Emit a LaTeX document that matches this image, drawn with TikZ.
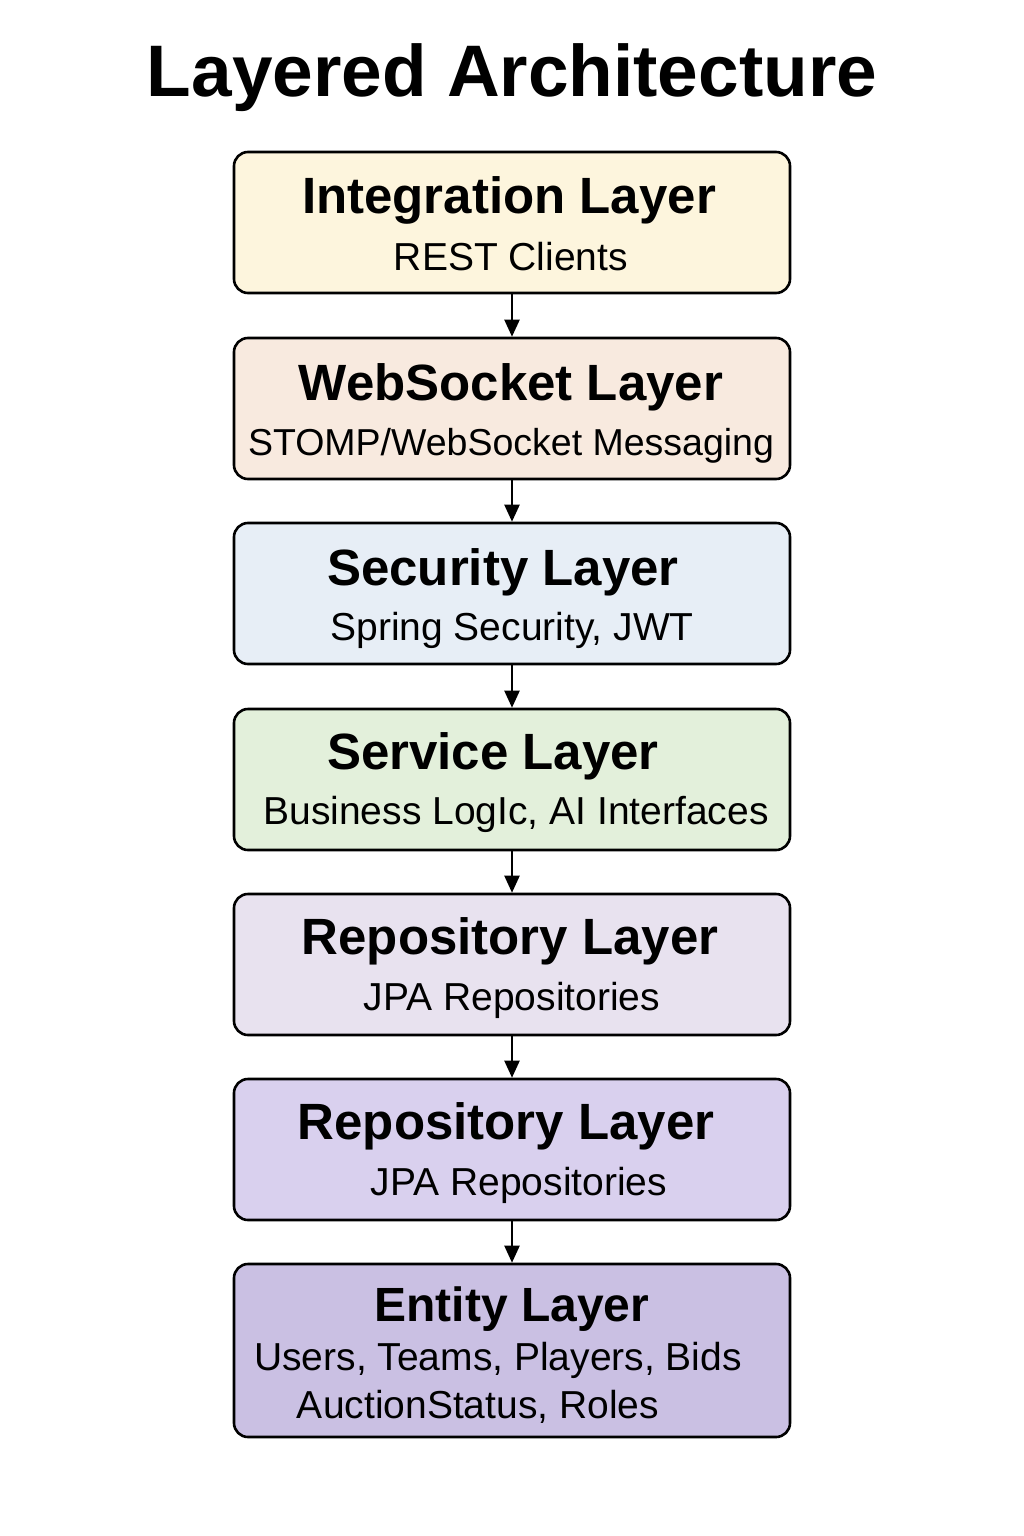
\documentclass[tikz,border=0pt]{standalone}
\usepackage{fontspec}
\setmainfont{Liberation Sans}
\usetikzlibrary{arrows.meta}

\definecolor{intcol}{HTML}{FDF5DD}
\definecolor{webcol}{HTML}{F8EADF}
\definecolor{seccol}{HTML}{E7EEF6}
\definecolor{svccol}{HTML}{E3F0DB}
\definecolor{repacol}{HTML}{E8E2EF}
\definecolor{repbcol}{HTML}{D9D0EE}
\definecolor{entcol}{HTML}{CAC0E3}

\tikzset{
	layer/.style = {draw, line width=2.6pt, rounded corners=14pt, minimum width=556pt, inner sep=0pt},
	head/.style = {anchor=base, font=\fontsize{51}{60}\selectfont\bfseries},
	sub/.style = {anchor=base, font=\fontsize{39}{44}\selectfont},
	down/.style = {line width=2.2pt, -{Triangle[length=17pt,width=15pt]}}
}

\begin{document}
\begin{tikzpicture}[x=1pt,y=-1pt]
	\fill[white] (0,0) rectangle (1024,1536);
	\useasboundingbox (0,0) rectangle (1024,1536);

	\node[anchor=base, font=\fontsize{73}{80}\selectfont\bfseries] (title) at (512,97) {Layered Architecture};

	% the boxes
	\node[layer, fill=intcol, minimum height=141pt] (integ) at (512,222.5) {};
	\node[layer, fill=webcol, minimum height=141pt] (webs) at (512,408.5) {};
	\node[layer, fill=seccol, minimum height=141pt] (secu) at (512,593.5) {};
	\node[layer, fill=svccol, minimum height=141pt] (serv) at (512,779.5) {};
	\node[layer, fill=repacol, minimum height=141pt] (repoa) at (512,964.5) {};
	\node[layer, fill=repbcol, minimum height=141pt] (repob) at (512,1149.5) {};
	\node[layer, fill=entcol, minimum height=173pt] (enti) at (512,1350.5) {};

	% the texts
	\node[head] (integh) at (509,213) {Integration Layer};
	\node[sub] (integs) at (511,270) {REST Clients};
	\node[head] (websh) at (511,400) {WebSocket Layer};
	\node[sub, font=\fontsize{37.5}{44}\selectfont] (webss) at (511,455) {STOMP/WebSocket Messaging};
	\node[head] (secuh) at (503,585) {Security Layer};
	\node[sub] (secus) at (512,640) {Spring Security, JWT};
	\node[head] (servh) at (493,769) {Service Layer};
	\node[sub] (servs) at (516,824) {Business LogIc, AI Interfaces};
	\node[head] (repoah) at (510,954) {Repository Layer};
	\node[sub] (repoas) at (512,1010) {JPA Repositories};
	\node[head] (repobh) at (506,1139) {Repository Layer};
	\node[sub] (repobs) at (519,1195) {JPA Repositories};
	\node[head, font=\fontsize{48}{56}\selectfont\bfseries] (entih) at (512,1321) {Entity Layer};
	\node[sub] (entia) at (498,1370) {Users, Teams, Players, Bids};
	\node[sub] (entib) at (478,1418) {AuctionStatus, Roles};

	% the arrows
	\draw[down] (integ) -- (webs);
	\draw[down] (webs) -- (secu);
	\draw[down] (secu) -- (serv);
	\draw[down] (serv) -- (repoa);
	\draw[down] (repoa) -- (repob);
	\draw[down] (repob) -- (enti);

\end{tikzpicture}
\end{document}
